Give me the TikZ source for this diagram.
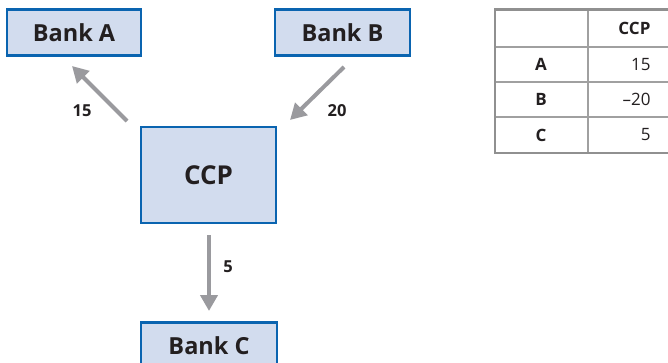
\documentclass[tikz,border=0pt]{standalone}
\usepackage{fontspec}
\setmainfont{Open Sans}
\usetikzlibrary{arrows.meta}
\definecolor{boxfill}{HTML}{D2DCEE}
\definecolor{boxline}{HTML}{0A64B0}
\definecolor{arrgray}{HTML}{9A9A9E}
\definecolor{tabgray}{HTML}{A0A0A0}
\definecolor{txt}{HTML}{231F20}
\begin{document}
\begin{tikzpicture}[x=1pt,y=-1pt,
  bank/.style={draw=boxline,fill=boxfill,line width=2.6pt,inner sep=0pt,text=txt,font=\fontsize{23.5}{26}\selectfont\bfseries},
  flow/.style={draw=arrgray,line width=4pt,-{Triangle[length=16pt,width=17pt]},shorten >=0pt},
  lab/.style={text=txt,font=\fontsize{16.5}{19}\selectfont\bfseries},
  tline/.style={draw=tabgray,line width=1.4pt},
  tout/.style={draw=tabgray!90!black,line width=2.4pt},
  thead/.style={text=txt,font=\fontsize{17}{19}\selectfont\bfseries},
  tnum/.style={text=txt,font=\fontsize{17}{19}\selectfont,anchor=east}]
\useasboundingbox (0,0) rectangle (668,363);
\begin{scope}
\clip (0,0) rectangle (668,363);
\node[bank,minimum width=134pt,minimum height=46pt] (A) at (74,32.5) {Bank A};
\node[bank,minimum width=135pt,minimum height=46pt] (B) at (342.5,32.5) {Bank B};
\node[bank,minimum width=135pt,minimum height=96pt,font=\fontsize{26}{30}\selectfont\bfseries] (P) at (208.5,175) {CCP};
\node[bank,minimum width=136pt,minimum height=46pt,anchor=north] (C) at (209,321) {Bank C};
\coordinate (a1) at (127,121);
\coordinate (a2) at (72,66);
\coordinate (b1) at (344,67);
\coordinate (b2) at (290,120);
\coordinate (c1) at (209,235);
\coordinate (c2) at (209,311);
\draw[flow] (a1) -- (a2);
\draw[flow] (b1) -- (b2);
\draw[flow] (c1) -- (c2);
\node[lab] (l15) at (82,111) {15};
\node[lab] (l20) at (337,111) {20};
\node[lab] (l5) at (228,267) {5};
% table
\draw[tline] (588,9.5) -- (588,153);
\draw[tline] (495,47) -- (670,47);
\draw[tline] (495,82) -- (670,82);
\draw[tline] (495,117) -- (670,117);
\draw[tout] (670,9.5) -- (495,9.5) -- (495,153) -- (670,153);
\node[thead,anchor=east] (hccp) at (654,28) {CCP};
\node[thead] (ra) at (541,64.5) {A};
\node[thead] (rb) at (541,99.5) {B};
\node[thead] (rc) at (541,135) {C};
\node[tnum] (va) at (654,64.5) {15};
\node[tnum] (vb) at (654,99.5) {–20};
\node[tnum] (vc) at (654,135) {5};
\end{scope}
\end{tikzpicture}
\end{document}
